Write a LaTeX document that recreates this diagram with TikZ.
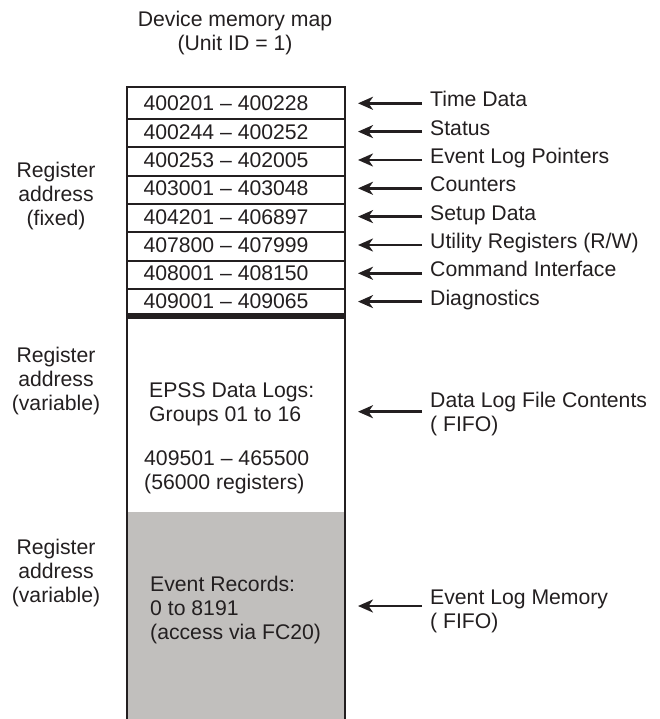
\documentclass[tikz,border=0pt]{standalone}
\usepackage{fontspec}
\setmainfont{Liberation Sans}
\usetikzlibrary{arrows.meta}
\definecolor{ink}{HTML}{231F20}
\definecolor{greyfill}{HTML}{C1BFBD}
\newcommand\mlL[1]{\begin{tabular}[t]{@{}l@{}}#1\end{tabular}}
\newcommand\mlC[1]{\begin{tabular}[t]{@{}c@{}}#1\end{tabular}}
\begin{document}
\begin{tikzpicture}[x=1pt,y=-1pt,
  txt/.style={inner sep=0pt, text=ink, font={\fontsize{21.2}{24}\selectfont}},
  rowtxt/.style={txt, anchor=base west},
  lbl/.style={txt, inner xsep=8pt, anchor=base west},
  side/.style={txt, anchor=base},
  arr/.style={draw=ink, line width=2.5pt, -{Stealth[length=15pt,width=13pt,inset=4.5pt]}},
  rule/.style={draw=ink, line width=2pt}]
\useasboundingbox (0,0) rectangle (659,719);

% shaded region
\fill[greyfill] (126.5,512) rectangle (344.5,719);
% outer frame
\draw[rule] (126.5,719) -- (126.5,87) -- (344.5,87) -- (344.5,719);
% row separators
\foreach \yy in {118.7,147.3,175.7,204,232.3,260.7,289}
  \draw[draw=ink, line width=1.8pt] (126.5,\yy) -- (344.5,\yy);
% thick band
\fill[ink] (125.5,313) rectangle (345.5,318.5);

% title
\node[side] (title) at (235,27) {\mlC{Device memory map\\(Unit ID = 1)}};

% rows
\node[rowtxt] (r1) at (143.3,110.8) {400201 – 400228};
\node[rowtxt] (r2) at (143.3,139.1) {400244 – 400252};
\node[rowtxt] (r3) at (143.3,167.5) {400253 – 402005};
\node[rowtxt] (r4) at (143.3,195.8) {403001 – 403048};
\node[rowtxt] (r5) at (143.3,224.1) {404201 – 406897};
\node[rowtxt] (r6) at (143.3,252.5) {407800 – 407999};
\node[rowtxt] (r7) at (143.3,280.8) {408001 – 408150};
\node[rowtxt] (r8) at (143.3,308.6) {409001 – 409065};

% inner texts
\node[rowtxt] (epss) at (149,397) {\mlL{EPSS Data Logs:\\Groups 01 to 16}};
\node[rowtxt] (epssaddr) at (144,465) {\mlL{409501 – 465500\\(56000 registers)}};
\node[rowtxt] (evrec) at (150,591.7) {\mlL{Event Records:\\0 to 8191\\(access via FC20)}};

% left labels
\node[side] (side1) at (56,177.7) {\mlC{Register\\address\\(fixed)}};
\node[side] (side2) at (56,362) {\mlC{Register\\address\\(variable)}};
\node[side] (side3) at (56,554) {\mlC{Register\\address\\(variable)}};

% right labels
\node[lbl] (l1) at (422,106.8) {Time Data};
\node[lbl] (l2) at (422,135.1) {Status};
\node[lbl] (l3) at (422,163.5) {Event Log Pointers};
\node[lbl] (l4) at (422,191.8) {Counters};
\node[lbl] (l5) at (422,220.1) {Setup Data};
\node[lbl] (l6) at (422,248.5) {Utility Registers (R/W)};
\node[lbl] (l7) at (422,276.8) {Command Interface};
\node[lbl] (l8) at (422,305.1) {Diagnostics};
\node[lbl] (ldata) at (422,407) {\mlL{Data Log File Contents\\( FIFO)}};
\node[lbl] (lev) at (422,604) {\mlL{Event Log Memory\\( FIFO)}};

% arrow tips
\coordinate (t1) at (358,103.3);
\coordinate (t2) at (358,131.6);
\coordinate (t3) at (358,160);
\coordinate (t4) at (358,188.3);
\coordinate (t5) at (358,216.6);
\coordinate (t6) at (358,245);
\coordinate (t7) at (358,273.3);
\coordinate (t8) at (358,301.6);
\coordinate (tdata) at (358,411.7);
\coordinate (tev) at (358,606);

\foreach \n in {1,...,8}
  \draw[arr] (l\n.west |- t\n) -- (t\n);
\draw[arr] (ldata.west |- tdata) -- (tdata);
\draw[arr] (lev.west |- tev) -- (tev);
\end{tikzpicture}
\end{document}
